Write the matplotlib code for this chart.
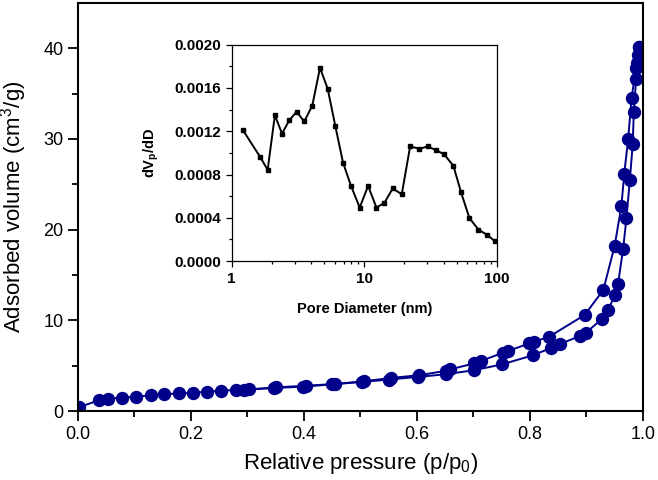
import matplotlib
matplotlib.use("Agg")
import matplotlib.pyplot as plt
from matplotlib.ticker import MultipleLocator, LogLocator, NullFormatter, FixedLocator

plt.rcParams['font.family'] = ['Liberation Sans', 'DejaVu Sans']
plt.rcParams['mathtext.fontset'] = 'custom'
plt.rcParams['mathtext.rm'] = 'Liberation Sans'
plt.rcParams['mathtext.it'] = 'Liberation Sans:italic'
plt.rcParams['mathtext.bf'] = 'Liberation Sans:bold'

# Adsorption branch
ads_p = [0.001, 0.038, 0.054, 0.078, 0.103, 0.129, 0.153, 0.179, 0.204, 0.229,
         0.253, 0.280, 0.294, 0.347, 0.398, 0.450, 0.502, 0.550, 0.602, 0.652,
         0.701, 0.750, 0.806, 0.838, 0.853, 0.888, 0.899, 0.927, 0.939, 0.950,
         0.956, 0.965, 0.971, 0.977, 0.982, 0.984, 0.988, 0.990, 0.993]
ads_V = [0.40, 1.21, 1.36, 1.47, 1.58, 1.73, 1.84, 1.95, 2.02, 2.13,
         2.24, 2.32, 2.32, 2.54, 2.68, 2.94, 3.20, 3.47, 3.76, 4.06,
         4.50, 5.13, 6.16, 6.97, 7.38, 8.26, 8.63, 10.11, 11.14, 12.8,
         14.0, 17.85, 21.3, 25.5, 29.4, 33.0, 36.6, 38.4, 40.1]

# Desorption branch
des_p = [0.993, 0.992, 0.988, 0.980, 0.974, 0.967, 0.962, 0.950, 0.930, 0.897,
         0.834, 0.807, 0.799, 0.762, 0.752, 0.714, 0.701, 0.658, 0.651, 0.604,
         0.555, 0.507, 0.455, 0.403, 0.351, 0.302]
des_V = [40.1, 39.2, 37.8, 34.55, 30.0, 26.15, 22.6, 18.2, 13.35, 10.59,
         8.19, 7.63, 7.45, 6.64, 6.42, 5.53, 5.24, 4.58, 4.43, 3.95,
         3.65, 3.29, 2.98, 2.79, 2.61, 2.39]

# Pore size distribution (inset)
pore_d = [1.21, 1.64, 1.87, 2.12, 2.40, 2.72, 3.09, 3.53, 4.06, 4.64,
          5.30, 6.06, 6.92, 7.95, 9.25, 10.7, 12.36, 14.2, 16.4, 19.2,
          22.2, 26.1, 30.1, 34.8, 40.0, 47.1, 53.8, 62.2, 72.7, 85.1, 97.1]
pore_dv = [0.001215, 0.000963, 0.000843, 0.001348, 0.001178, 0.00130, 0.00138, 0.00129,
           0.001437, 0.001785, 0.001594, 0.001246, 0.000911, 0.000695, 0.000495, 0.000695,
           0.000495, 0.000538, 0.000671, 0.000618, 0.00106, 0.001037, 0.00106, 0.001025,
           0.000988, 0.00088, 0.000634, 0.000397, 0.000292, 0.00024, 0.000182]

navy = '#00008a'

fig = plt.figure(figsize=(6.58, 4.8), dpi=100)
ax = fig.add_axes([0.1185, 0.1437, 0.8585, 0.8503])

ax.plot(ads_p, ads_V, color=navy, lw=1.4, marker='o', ms=8.6, mfc=navy, mec=navy)
ax.plot(des_p, des_V, color=navy, lw=1.4, marker='o', ms=8.6, mfc=navy, mec=navy)

ax.set_xlim(0, 1.0)
ax.set_ylim(0, 45)
ax.xaxis.set_major_locator(MultipleLocator(0.2))
ax.xaxis.set_minor_locator(MultipleLocator(0.1))
ax.yaxis.set_major_locator(FixedLocator([0, 10, 20, 30, 40]))
ax.yaxis.set_minor_locator(FixedLocator([5, 15, 25, 35]))
ax.xaxis.set_major_formatter(matplotlib.ticker.FormatStrFormatter('%.1f'))
ax.tick_params(which='both', direction='out', width=1.3, labelsize=13, colors='black')
ax.tick_params(which='major', length=7)
ax.tick_params(which='minor', length=4.5)
for s in ax.spines.values():
    s.set_linewidth(1.5)
ax.set_xlabel('Relative pressure (p/p$_{\\mathrm{0}}$)', fontsize=16, labelpad=6)
ax.set_ylabel('Adsorbed volume (cm$^{\\mathrm{3}}$/g)', fontsize=16, labelpad=10)

ins = fig.add_axes([0.352, 0.456, 0.403, 0.451])
ins.plot(pore_d, pore_dv, color='black', lw=1.4, marker='s', ms=2.5)
ins.set_xscale('log')
ins.set_xlim(1, 100)
ins.set_ylim(0, 0.0020)
ins.yaxis.set_major_locator(MultipleLocator(0.0004))
ins.yaxis.set_minor_locator(MultipleLocator(0.0002))
ins.yaxis.set_major_formatter(matplotlib.ticker.FormatStrFormatter('%.4f'))
ins.xaxis.set_major_locator(LogLocator(base=10))
ins.xaxis.set_minor_locator(LogLocator(base=10, subs=range(2, 10)))
ins.xaxis.set_minor_formatter(NullFormatter())
ins.xaxis.set_major_formatter(matplotlib.ticker.FuncFormatter(lambda v, p: '%d' % v))
ins.tick_params(which='both', direction='out', width=0.9, labelsize=11)
ins.tick_params(which='major', length=4)
ins.tick_params(which='minor', length=2.5)
for lab in ins.get_xticklabels() + ins.get_yticklabels():
    lab.set_fontweight('bold')
for s in ins.spines.values():
    s.set_linewidth(0.9)
ins.set_xlabel('Pore Diameter (nm)', fontsize=10.5, fontweight='bold', labelpad=12)
ins.set_ylabel('dV$_{\\mathbf{p}}$/dD', fontsize=10.5, fontweight='bold', labelpad=10)

fig.savefig('out.png', dpi=100)
